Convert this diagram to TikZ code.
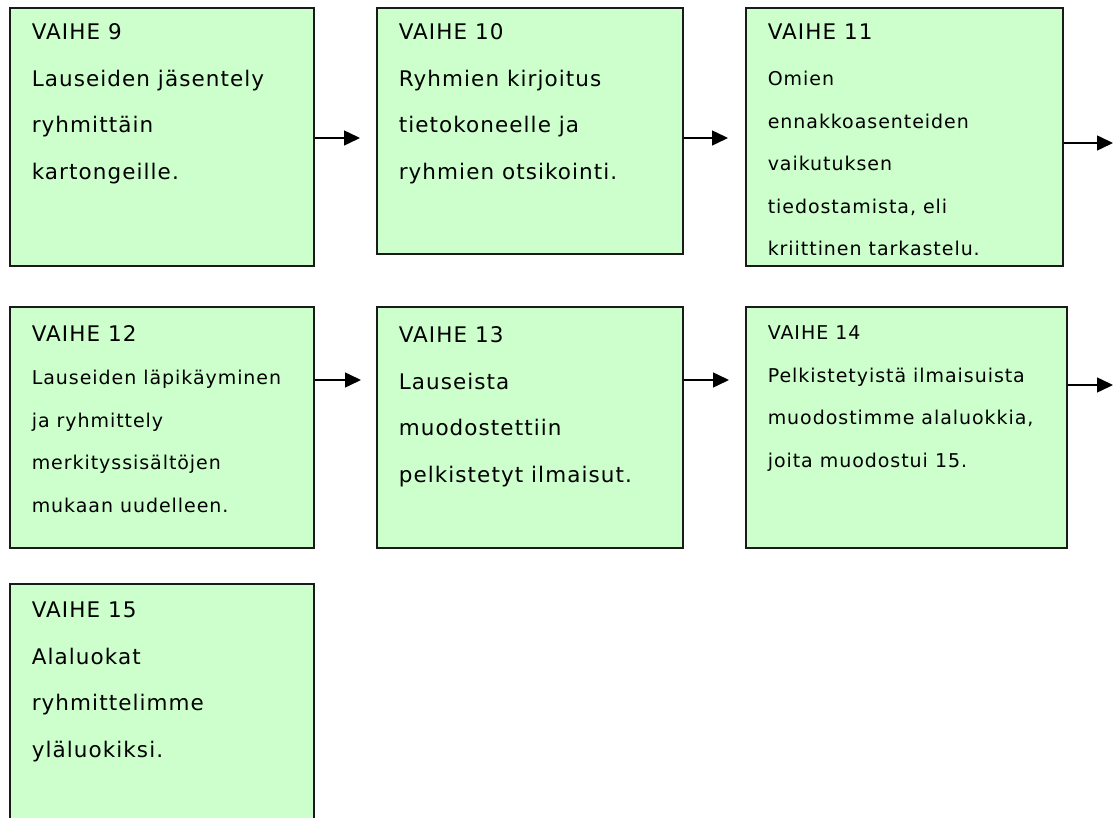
\documentclass[tikz,border=0pt]{standalone}
\usepackage{fontspec}
\setmainfont{DejaVu Sans}[LetterSpace=5]
\usetikzlibrary{arrows.meta}
\definecolor{boxgreen}{HTML}{CCFFCC}
\definecolor{boxline}{HTML}{1A1A1A}
\newcommand{\bigf}{\fontsize{21.5}{46.5}\selectfont}
\newcommand{\smallf}{\fontsize{19}{42.5}\selectfont}
\newcommand{\vbx}[3]{\parbox[t][#1pt][t]{#2pt}{#3}}
\begin{document}
\begin{tikzpicture}[x=1pt,y=-1pt,
  stagebox/.style={draw=boxline, fill=boxgreen, line width=1.6pt, anchor=north west,
    inner xsep=22pt, inner ysep=0pt, align=left, text=black},
  arr/.style={line width=1.5pt, -{Triangle[length=16pt,width=15pt]}}]
\clip (0,0) rectangle (1117,818);
\fill[white] (0,0) rectangle (1117,818);

\node[stagebox] (b1) at (9,7) {\vbx{258}{260}{\bigf\rule{0pt}{32pt}VAIHE 9\\
Lauseiden jäsentely\\ ryhmittäin\\ kartongeille.}};
\node[stagebox] (b2) at (376,7) {\vbx{246}{262}{\bigf\rule{0pt}{32pt}VAIHE 10\\
Ryhmien kirjoitus\\ tietokoneelle ja\\ ryhmien otsikointi.}};
\node[stagebox] (b3) at (745,7) {\vbx{258}{273}{\bigf\rule{0pt}{32pt}VAIHE 11\\[3.5pt]
\smallf Omien\\ ennakkoasenteiden\\ vaikutuksen\\ tiedostamista, eli\\ kriittinen tarkastelu.}};

\node[stagebox] (b4) at (9,306) {\vbx{241}{260}{\bigf\rule{0pt}{35pt}VAIHE 12\\[0.5pt]
\smallf Lauseiden läpikäyminen\\ ja ryhmittely\\ merkityssisältöjen\\ mukaan uudelleen.}};
\node[stagebox] (b5) at (376,306) {\vbx{241}{262}{\bigf\rule{0pt}{36pt}VAIHE 13\\
Lauseista\\ muodostettiin\\ pelkistetyt ilmaisut.}};
\node[stagebox] (b6) at (745,306) {\vbx{241}{277}{\smallf\rule{0pt}{33pt}VAIHE 14\\
Pelkistetyistä ilmaisuista\\ muodostimme alaluokkia,\\ joita muodostui 15.}};

\node[stagebox] (b7) at (9,583) {\vbx{260}{260}{\bigf\rule{0pt}{34pt}VAIHE 15\\
Alaluokat\\ ryhmittelimme\\ yläluokiksi.}};

\coordinate (a1) at (360,138);
\coordinate (a2) at (728,138);
\coordinate (a3) at (1113,143);
\coordinate (a4) at (361,380);
\coordinate (a5) at (729,380);
\coordinate (a6) at (1113,385);
\draw[arr] (b1.east |- a1) -- (a1);
\draw[arr] (b2.east |- a2) -- (a2);
\draw[arr] (b3.east |- a3) -- (a3);
\draw[arr] (b4.east |- a4) -- (a4);
\draw[arr] (b5.east |- a5) -- (a5);
\draw[arr] (b6.east |- a6) -- (a6);
\end{tikzpicture}
\end{document}
